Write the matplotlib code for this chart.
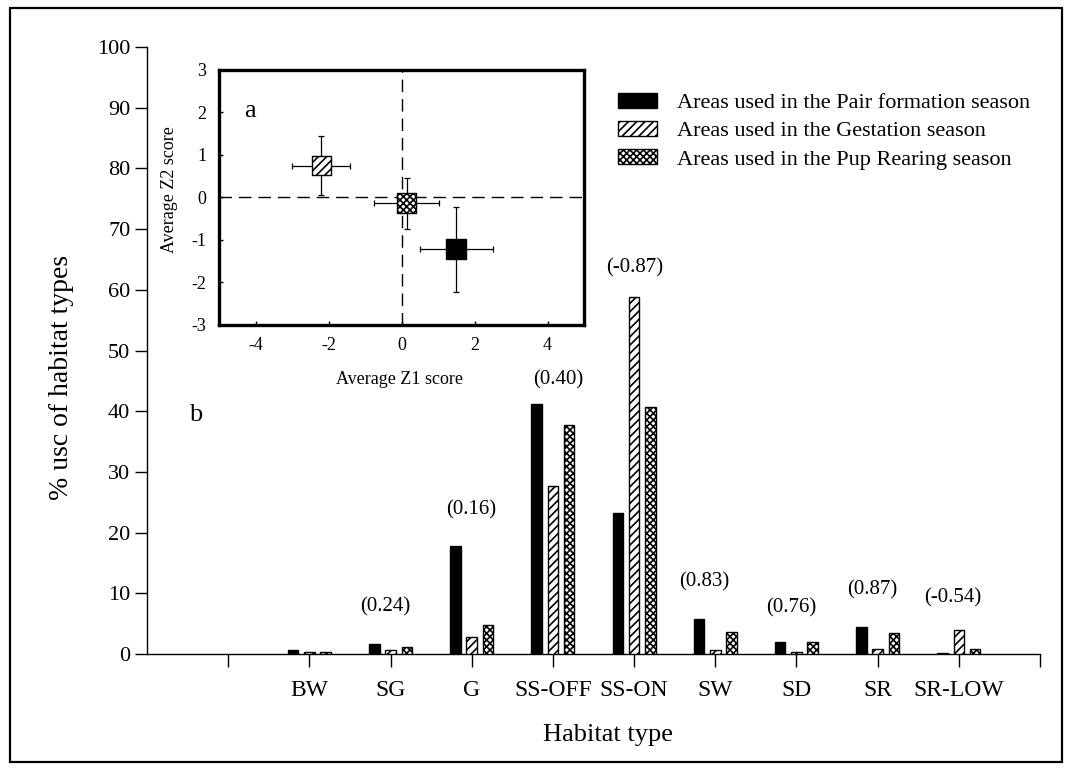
import matplotlib
matplotlib.use("Agg")
import matplotlib.pyplot as plt
from matplotlib.patches import Rectangle
import numpy as np

plt.rcParams['font.family'] = ['Liberation Serif', 'DejaVu Serif']
plt.rcParams['axes.unicode_minus'] = False
plt.rcParams['hatch.linewidth'] = 1.2

# ---------------- data ----------------
habitats = ['BW', 'SG', 'G', 'SS-OFF', 'SS-ON', 'SW', 'SD', 'SR', 'SR-LOW']
pair_formation = [0.6, 1.6, 17.8, 41.2, 23.2, 5.8, 2.0, 4.5, 0.1]
gestation      = [0.4, 0.6, 2.8, 27.6, 58.8, 0.6, 0.4, 0.9, 4.0]
pup_rearing    = [0.4, 1.1, 4.8, 37.8, 40.7, 3.6, 1.9, 3.5, 0.9]

corr_labels = ['', '(0.24)', '(0.16)', '(0.40)', '(-0.87)', '(0.83)', '(0.76)', '(0.87)', '(-0.54)']
corr_label_x = [0, -0.06, -0.01, 0.06, 0.01, -0.13, -0.06, -0.07, -0.07]   # offset from category
corr_label_y = [0, 7.8, 23.7, 45.1, 63.6, 11.9, 7.6, 10.5, 9.2]

season_names = ['Areas used in the Pair formation season',
                'Areas used in the Gestation season',
                'Areas used in the Pup Rearing season']

# inset: average Z1 / Z2 scores (mean, error)
z1_mean = [1.5, -2.2, 0.14]
z1_err  = [1.0, 0.8, 0.9]
z2_mean = [-1.22, 0.75, -0.13]
z2_err  = [1.0, 0.7, 0.6]

# ---------------- figure ----------------
W, H = 1075, 772
fig = plt.figure(figsize=(W / 100, H / 100), dpi=100)

# outer frame
fig.patches.append(Rectangle((10 / W, 1 - 762 / H), (1062 - 10) / W, (762 - 8) / H,
                             transform=fig.transFigure, fill=False, lw=1.6, ec='black'))

ax = fig.add_axes([147 / W, 1 - 654 / H, (1040 - 147) / W, (654 - 47) / H])

styles = [dict(facecolor='black', hatch=None),
          dict(facecolor='white', hatch='////'),
          dict(facecolor='white', hatch='xxxxx')]
series = [pair_formation, gestation, pup_rearing]
x = np.arange(2, 2 + len(habitats))
offsets = [-0.2, 0.0, 0.2]
width = 0.13
for vals, off, st, name in zip(series, offsets, styles, season_names):
    ax.bar(x + off, vals, width, color=st['facecolor'], edgecolor='black',
           hatch=st['hatch'], linewidth=1.0, label=name, zorder=3)

for xi, lab, dx, yy in zip(x, corr_labels, corr_label_x, corr_label_y):
    if lab:
        ax.text(xi + dx, yy, lab, ha='center', va='center', fontsize=15)

ax.set_xlim(0, 11)
ax.set_ylim(0, 100)
ax.set_yticks(np.arange(0, 101, 10))
ax.set_xticks(np.arange(1, 12))
ax.set_xticklabels([''] + habitats + [''], fontsize=17)
ax.tick_params(axis='y', labelsize=16, length=9, width=1, pad=3, direction='out')
ax.tick_params(axis='x', length=9, width=1, pad=10, direction='out')
for s in ['top', 'right']:
    ax.spines[s].set_visible(False)
for s in ['left', 'bottom']:
    ax.spines[s].set_linewidth(1.0)

ax.text(0.6, 39.3, 'b', fontsize=19, ha='center', va='center')

fig.text(62 / W, 1 - 377 / H, '% usc of habitat types', rotation=90,
         ha='center', va='center', fontsize=20)
fig.text(608 / W, 1 - 735 / H, 'Habitat type', ha='center', va='center', fontsize=19)

leg = ax.legend(loc='upper left', bbox_to_anchor=(618 / W, 1 - 93 / H),
                bbox_transform=fig.transFigure, frameon=False, fontsize=16,
                handlelength=1.75, handleheight=0.65, handletextpad=0.9,
                labelspacing=0.36, borderpad=0, borderaxespad=0)

# ---------------- inset ----------------
ins = fig.add_axes([219 / W, 1 - 325 / H, (584 - 219) / W, (325 - 70) / H])
ins.axvline(0, color='black', lw=1.0, ls=(0, (9, 5)), zorder=1)
ins.axhline(0, color='black', lw=1.0, ls=(0, (9, 5)), zorder=1)
ins.errorbar(z1_mean, z2_mean, xerr=z1_err, yerr=z2_err, fmt='none',
             ecolor='black', elinewidth=0.9, capsize=2.5, capthick=0.9, zorder=2)
for xm, ym, st in zip(z1_mean, z2_mean, styles):
    ins.scatter([xm], [ym], marker='s', s=190, facecolor=st['facecolor'],
                edgecolor='black', linewidth=1.0, hatch=st['hatch'], zorder=3)
ins.set_xlim(-5, 5)
ins.set_ylim(-3, 3)
ins.set_xticks([-4, -2, 0, 2, 4])
ins.set_yticks([-3, -2, -1, 0, 1, 2, 3])
ins.tick_params(labelsize=13, length=3, width=1, direction='in', pad=9)
for s in ins.spines.values():
    s.set_linewidth(2.4)
ins.text(0.085, 0.84, 'a', transform=ins.transAxes, fontsize=19, ha='center', va='center')

fig.text(400 / W, 1 - 380 / H, 'Average Z1 score', ha='center', va='center', fontsize=13)
fig.text(170 / W, 1 - 190 / H, 'Average Z2 score', rotation=90, ha='center', va='center',
         fontsize=13)

fig.savefig('out.png', dpi=100)
